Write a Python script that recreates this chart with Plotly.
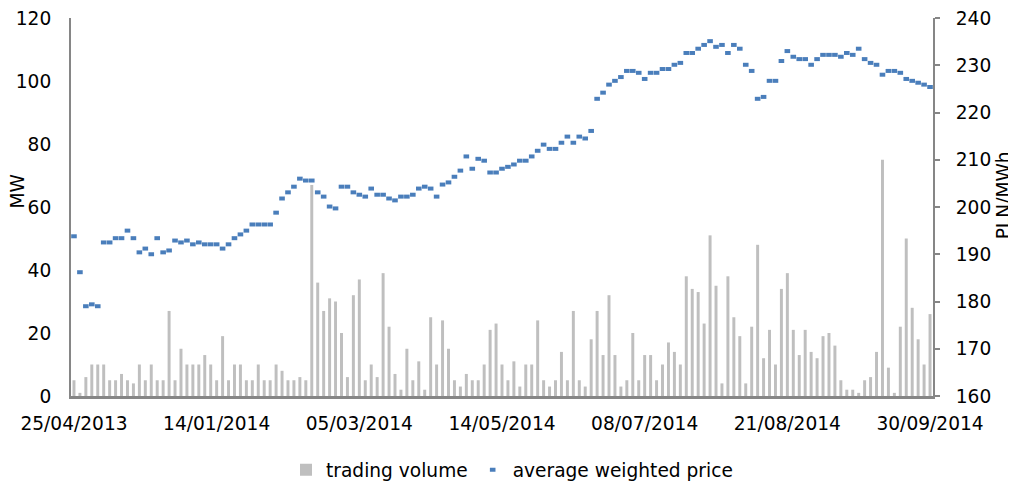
import plotly.graph_objects as go

# ---- data ----
tick_labels = ["25/04/2013", "14/01/2014", "05/03/2014", "14/05/2014",
               "08/07/2014", "21/08/2014", "30/09/2014"]
tick_positions = [0, 24, 48, 72, 96, 120, 144]

trading_volume = [
    5, 1, 6, 10, 10, 10, 5, 5, 7, 5, 4, 10, 5, 10, 5, 5, 27, 5, 15, 10, 10, 10, 13, 10,
    5, 19, 5, 10, 10, 5, 5, 10, 5, 5, 10, 8, 5, 5, 6, 5, 67, 36, 27, 31, 30, 20, 6, 32,
    37, 5, 10, 6, 39, 22, 7, 2, 15, 5, 11, 2, 25, 10, 24, 15, 5, 3, 7, 5, 5, 10, 21, 23,
    10, 5, 11, 3, 10, 10, 24, 5, 3, 5, 14, 5, 27, 5, 3, 18, 27, 13, 32, 13, 3, 5, 20, 5, 13,
    13, 5, 10, 17, 14, 10, 38, 34, 33, 23, 51, 35, 4, 38, 25, 19, 4, 22, 48, 12, 21, 10, 34, 39,
    21, 13, 21, 14, 12, 19, 20, 16, 5, 2, 2, 1, 5, 6, 14, 75, 9, 1, 22, 50, 28, 18, 10, 26,
]

avg_price = [
    193.8, 186.2, 179.0, 179.4, 179.0, 192.5, 192.5, 193.4, 193.4, 195.0, 193.4, 190.4,
    191.2, 190.0, 193.4, 190.4, 190.8, 192.9, 192.5, 192.9, 192.1, 192.5, 192.1, 192.1,
    192.1, 191.2, 192.1, 193.4, 194.2, 195.0, 196.3, 196.3, 196.3, 196.3, 198.8, 201.8,
    203.1, 204.3, 206.0, 205.6, 205.6, 203.1, 202.2, 200.1, 199.7, 204.3, 204.3, 203.1,
    202.6, 202.2, 203.9, 202.6, 202.6, 201.8, 201.4, 202.2, 202.2, 202.6, 203.9, 204.3,
    203.9, 202.2, 204.75, 205.2, 206.4, 207.7, 210.7, 208.1, 210.2, 209.8, 207.3, 207.3,
    208.1, 208.5, 209.0, 209.8, 209.8, 210.7, 211.9, 213.2, 212.3, 212.3, 213.6, 214.9,
    213.6, 214.9, 214.5, 216.1, 222.9, 224.2, 225.9, 226.7, 227.5, 228.8, 228.8, 228.4, 227.1,
    228.4, 228.4, 229.2, 229.2, 230.1, 230.5, 232.6, 232.6, 233.5, 234.3, 235.1, 233.9,
    234.3, 232.6, 234.3, 233.5, 230.1, 228.8, 222.9, 223.3, 226.7, 226.7, 230.9, 233.0,
    231.8, 231.3, 231.3, 230.1, 231.3, 232.2, 232.2, 232.2, 231.8, 232.6, 232.2, 233.5,
    231.3, 230.5, 230.1, 228.0, 228.8, 228.8, 228.4, 227.1, 226.7, 226.3, 225.9, 225.4,
]

x_idx = list(range(len(trading_volume)))

FONT = "DejaVu Sans"
FS = 18.6
AXIS_GREY = "#868686"

fig = go.Figure()
fig.add_trace(go.Bar(
    x=x_idx, y=trading_volume, name="trading volume",
    marker=dict(color="#BFBFBF", line=dict(width=0)),
    width=0.5, yaxis="y",
))
fig.add_trace(go.Scatter(
    x=x_idx, y=avg_price, name="average weighted price", mode="markers",
    marker=dict(symbol="line-ew", size=4, color="#4A7EBB",
                line=dict(width=4, color="#4A7EBB")),
    yaxis="y2",
))

# page body has an 8px margin, so the figure is 8px smaller and margins shifted
fig.update_layout(
    width=1008, height=475,
    margin=dict(l=63, r=83, t=10, b=87, autoexpand=False),
    paper_bgcolor="white", plot_bgcolor="white",
    font=dict(family=FONT, size=FS, color="#000000"),
    showlegend=True,
    legend=dict(orientation="h", xref="container", x=0.5, xanchor="center",
                yref="container", y=0.027, yanchor="middle",
                font=dict(family=FONT, size=FS), itemwidth=30, tracegroupgap=0,
                bgcolor="rgba(0,0,0,0)"),
    xaxis=dict(
        range=[-0.5, 144.5], tickmode="array", tickvals=tick_positions,
        ticktext=tick_labels, showgrid=False, zeroline=False,
        showline=True, linecolor=AXIS_GREY, linewidth=2.5, ticks="",
        ticklabelstandoff=9, ticklabeloverflow="allow",
        tickfont=dict(family=FONT, size=FS),
    ),
    yaxis=dict(
        range=[0, 120], dtick=20, showgrid=False, zeroline=False,
        showline=True, linecolor=AXIS_GREY, linewidth=2, ticks="",
        ticklabelstandoff=14, ticklabeloverflow="allow",
        tickfont=dict(family=FONT, size=FS),
    ),
    yaxis2=dict(
        range=[160, 240], dtick=10, overlaying="y", side="right",
        showgrid=False, zeroline=False, showline=True, linecolor=AXIS_GREY,
        linewidth=2, ticks="outside", ticklen=5, tickcolor=AXIS_GREY, tickwidth=2,
        ticklabelstandoff=12, ticklabeloverflow="allow",
        tickfont=dict(family=FONT, size=FS),
    ),
    annotations=[
        dict(text="MW", xref="paper", yref="paper", x=-0.062, y=0.54,
             textangle=-90, showarrow=False, font=dict(family=FONT, size=FS),
             xanchor="center", yanchor="middle"),
        dict(text="PLN/MWh", xref="paper", yref="paper", x=1.082, y=0.53,
             textangle=-90, showarrow=False, font=dict(family=FONT, size=FS),
             xanchor="center", yanchor="middle"),
    ],
)

fig.write_html("out.html")
